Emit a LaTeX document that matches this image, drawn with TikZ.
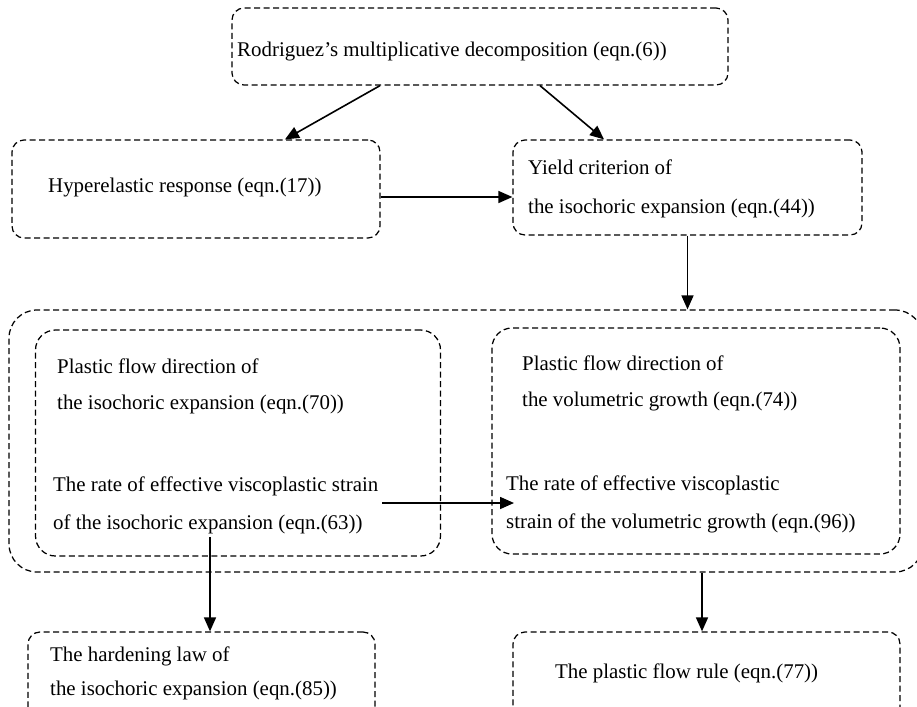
\documentclass[tikz,border=0pt]{standalone}
\usepackage{fontspec}
\setmainfont{Liberation Serif}
\usetikzlibrary{arrows.meta}
\begin{document}
\begin{tikzpicture}[x=1pt,y=-1pt,
  box/.style={draw, dash pattern=on 6pt off 3.5pt, line width=1.25pt, rounded corners=12pt, rectangle, inner sep=0},
  txt/.style={anchor=west, inner sep=0, font=\fontsize{20.9}{24}\selectfont},
  arr/.style={line width=1.6pt, -{Triangle[length=14pt,width=12pt]}}]
\useasboundingbox (0,0) rectangle (917,706);
\clip (0,0) rectangle (917,706);
% boxes
\node[box, minimum width=496pt, minimum height=77pt] (top) at (480,46.5) {};
\node[box, minimum width=368pt, minimum height=98pt] (hyper) at (196,189) {};
\node[box, minimum width=349pt, minimum height=95pt] (yield) at (687.5,187.5) {};
\node[box, minimum width=914pt, minimum height=262pt, rounded corners=28pt] (outer) at (466,441) {};
\node[box, minimum width=405pt, minimum height=226pt, rounded corners=20pt] (inL) at (238,443) {};
\node[box, minimum width=408pt, minimum height=226pt, rounded corners=20pt] (inR) at (696,441) {};
\node[box, minimum width=347pt, minimum height=108pt] (botL) at (201.5,686) {};
\node[box, minimum width=387pt, minimum height=108pt] (botR) at (706.5,686) {};
% texts
\node[txt] (t0) at (237,51.5) {Rodriguez’s multiplicative decomposition (eqn.(6))};
\node[txt] (h0) at (48,188) {Hyperelastic response (eqn.(17))};
\node[txt] (y1) at (528,167) {Yield criterion of};
\node[txt] (y2) at (528,208) {the isochoric expansion (eqn.(44))};
\node[txt] (l1) at (57,366) {Plastic flow direction of};
\node[txt] (l2) at (57,404) {the isochoric expansion (eqn.(70))};
\node[txt] (l3) at (53,486) {The rate of effective viscoplastic strain};
\node[txt] (l4) at (53,524) {of the isochoric expansion (eqn.(63))};
\node[txt] (r1) at (522,363) {Plastic flow direction of};
\node[txt] (r2) at (522,401) {the volumetric growth (eqn.(74))};
\node[txt] (r3) at (506,485) {The rate of effective viscoplastic};
\node[txt] (r4) at (506,523) {strain of the volumetric growth (eqn.(96))};
\node[txt] (b1) at (50,656) {The hardening law of};
\node[txt] (b2) at (50,690) {the isochoric expansion (eqn.(85))};
\node[txt] (b3) at (555,673) {The plastic flow rule (eqn.(77))};
% connectors
\coordinate (a5s) at (382,503);
\coordinate (a5e) at (514,503);
\coordinate (a6s) at (210,537);
\coordinate (a7s) at ([xshift=236pt]outer.south);
\draw[arr] ([xshift=-100pt]top.south) -- ([xshift=89pt]hyper.north);
\draw[arr] ([xshift=60pt]top.south) -- ([xshift=-83.5pt]yield.north);
\draw[arr] ([yshift=-8pt]hyper.east) -- ([yshift=-9.5pt]yield.west);
\draw[arr] (yield.south) -- (outer.north -| yield.south);
\draw[arr] (a5s) -- (a5e);
\draw[arr] (a6s) -- (botL.north -| a6s);
\draw[arr] (a7s) -- (botR.north -| a7s);
\end{tikzpicture}
\end{document}
